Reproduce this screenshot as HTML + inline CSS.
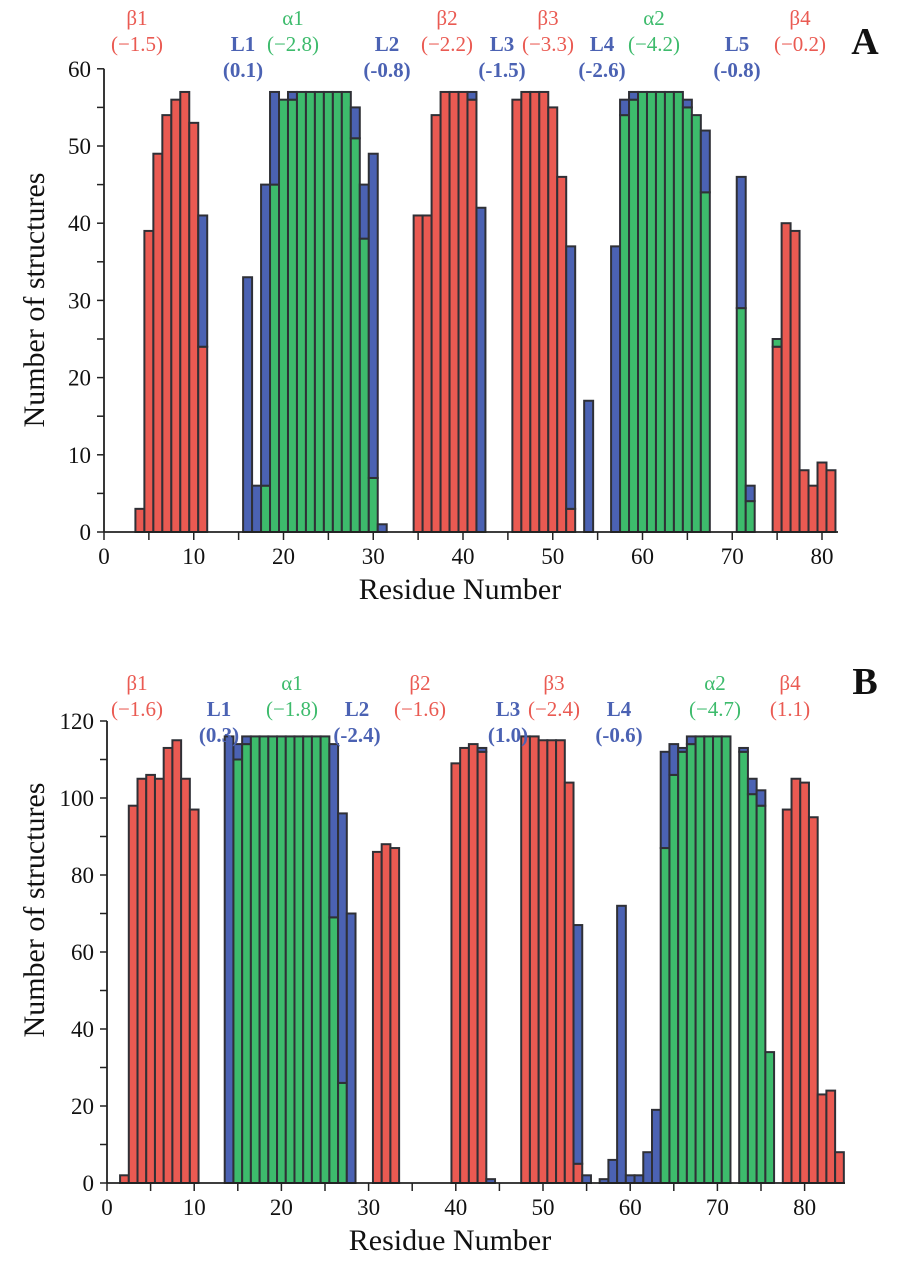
<!DOCTYPE html>
<html><head><meta charset="utf-8"><style>
html,body{margin:0;padding:0;background:#fff;}
svg{display:block;font-family:"Liberation Serif",serif;}
</style></head><body>
<svg id="chart" width="901" height="1280" viewBox="0 0 901 1280" xmlns="http://www.w3.org/2000/svg">
<g id="panelA"></g>
<g id="panelB"></g>
</svg>
<script>
// Panel A data
const resA   = [4,5,6,7,8,9,10,11,16,17,18,19,20,21,22,23,24,25,26,27,28,29,30,31,35,36,37,38,39,40,41,42,46,47,48,49,50,51,52,54,57,58,59,60,61,62,63,64,65,66,67,71,72,75,76,77,78,79,80,81];
const redA   = [3,39,49,54,56,57,53,24,0,0,0,0,0,0,0,0,0,0,0,0,0,0,0,0,41,41,54,57,57,57,56,0,56,57,57,57,55,46,3,0,0,0,0,0,0,0,0,0,0,0,0,0,0,24,40,39,8,6,9,8];
const greenA = [0,0,0,0,0,0,0,0,0,0,6,45,56,56,57,57,57,57,57,57,51,38,7,0,0,0,0,0,0,0,0,0,0,0,0,0,0,0,0,0,0,54,56,57,57,57,57,57,55,54,44,29,4,1,0,0,0,0,0,0];
const blueA  = [0,0,0,0,0,0,0,17,33,6,39,12,0,1,0,0,0,0,0,0,4,7,42,1,0,0,0,0,0,0,1,42,0,0,0,0,0,0,34,17,37,2,1,0,0,0,0,0,1,0,8,17,2,0,0,0,0,0,0,0];
const xTicksA = [0,10,20,30,40,50,60,70,80];
const yTicksA = [0,10,20,30,40,50,60];
const labelsA = ["β1","L1","α1","L2","β2","L3","β3","L4","α2","L5","β4"];
const valuesA = ["(−1.5)","(0.1)","(−2.8)","(-0.8)","(−2.2)","(-1.5)","(−3.3)","(-2.6)","(−4.2)","(-0.8)","(−0.2)"];
// Panel B data
const resB   = [2,3,4,5,6,7,8,9,10,14,15,16,17,18,19,20,21,22,23,24,25,26,27,28,31,32,33,40,41,42,43,44,48,49,50,51,52,53,54,55,57,58,59,60,61,62,63,64,65,66,67,68,69,70,71,73,74,75,76,78,79,80,81,82,83,84];
const redB   = [2,98,105,106,105,113,115,105,97,0,0,0,0,0,0,0,0,0,0,0,0,0,0,0,86,88,87,109,113,114,112,0,116,116,115,115,115,104,5,0,0,0,0,0,0,0,0,0,0,0,0,0,0,0,0,0,0,0,0,97,105,104,95,23,24,8];
const greenB = [0,0,0,0,0,0,0,0,0,0,110,114,116,116,116,116,116,116,116,116,116,69,26,0,0,0,0,0,0,0,0,0,0,0,0,0,0,0,0,0,0,0,0,0,0,0,0,87,106,112,114,116,116,116,116,112,101,98,34,0,0,0,0,0,0,0];
const blueB  = [0,0,0,0,0,0,0,0,0,116,4,2,0,0,0,0,0,0,0,0,0,45,70,70,0,0,0,0,0,0,1,1,0,0,0,0,0,0,62,2,1,6,72,2,2,8,19,25,8,1,2,0,0,0,0,1,4,4,0,0,0,0,0,0,0,0];
const xTicksB = [0,10,20,30,40,50,60,70,80];
const yTicksB = [0,20,40,60,80,100,120];
const labelsB = ["β1","L1","α1","L2","β2","L3","β3","L4","α2","β4"];
const valuesB = ["(−1.6)","(0.3)","(−1.8)","(-2.4)","(−1.6)","(1.0)","(−2.4)","(-0.6)","(−4.7)","(1.1)"];

const NS="http://www.w3.org/2000/svg";
const COL={red:"#ea5a52",green:"#3dbb6c",blue:"#4b62b3"};
function mk(tag,attrs,parent){const e=document.createElementNS(NS,tag);for(const k in attrs)e.setAttribute(k,attrs[k]);parent.appendChild(e);return e;}

function drawPanel(g,cfg){
  const xs=v=>cfg.x0+cfg.kx*v, ys=v=>cfg.y0-cfg.ky*v;
  for(let i=0;i<cfg.res.length;i++){
    const r=cfg.res[i];let base=0;
    const segs=[["red",cfg.red[i]],["green",cfg.green[i]],["blue",cfg.blue[i]]];
    for(const [c,v] of segs){
      if(v<=0)continue;
      const rect=mk("rect",{x:xs(r-0.5),y:ys(base+v),width:cfg.kx,height:cfg.ky*v,fill:COL[c],stroke:"#2f3036","stroke-width":2},g);
      
      
      base+=v;
    }
  }
  const ya=mk("line",{x1:cfg.x0,y1:cfg.y0,x2:cfg.x0,y2:ys(cfg.ymax),stroke:"#222","stroke-width":1.8},g);
  
  const xa=mk("line",{x1:cfg.x0,y1:cfg.y0,x2:cfg.xend,y2:cfg.y0,stroke:"#222","stroke-width":1.8},g);
  
  for(let v=0;v<=cfg.ymax;v+=cfg.yminor){mk("line",{x1:cfg.x0-7,y1:ys(v),x2:cfg.x0,y2:ys(v),stroke:"#222","stroke-width":1.5},g);}
  for(let v=0;v<=80;v+=5){mk("line",{x1:xs(v),y1:cfg.y0,x2:xs(v),y2:cfg.y0+8,stroke:"#222","stroke-width":1.5},g);}
  for(const t of cfg.yt){const e=mk("text",{x:cfg.x0-13,y:ys(t)+8,"text-anchor":"end","font-size":23,fill:"#111"},g);e.textContent=t;
    }
  for(const t of cfg.xt){const e=mk("text",{x:xs(t),y:cfg.y0+32,"text-anchor":"middle","font-size":23,fill:"#111"},g);e.textContent=t;
    }
  const xt=mk("text",{x:cfg.xtitleX,y:cfg.y0+67,"text-anchor":"middle","font-size":30,fill:"#111"},g);xt.textContent="Residue Number";
  
  const ytl=mk("text",{x:0,y:0,"text-anchor":"middle","font-size":30,fill:"#111",transform:`translate(${cfg.ytitleX},${cfg.ytitleY}) rotate(-90)`},g);ytl.textContent="Number of structures";
  
  const pl=mk("text",{x:865,y:cfg.letterY,"text-anchor":"middle","font-size":38,"font-weight":"bold",fill:"#111"},g);pl.textContent=cfg.letter;
  
  for(let i=0;i<cfg.labels.length;i++){
    const isL=cfg.labels[i][0]==="L";
    const c=isL?COL.blue:(cfg.labels[i][0]==="α"?COL.green:COL.red);
    const yy=cfg.labY+(isL?26:0);
    const a=mk("text",{x:cfg.labX[i],y:yy,"text-anchor":"middle","font-size":21,fill:c,"font-weight":isL?"bold":"normal"},g);a.textContent=cfg.labels[i];
    
    const b=mk("text",{x:cfg.labX[i],y:yy+26,"text-anchor":"middle","font-size":21,fill:c,"font-weight":isL?"bold":"normal"},g);b.textContent=cfg.values[i];
    
  }
}
drawPanel(document.getElementById("panelA"),{x0:104,kx:8.975,y0:532,ky:7.72,ymax:60,yminor:5,xend:838,res:resA,red:redA,green:greenA,blue:blueA,
  yt:yTicksA,xt:xTicksA,xtitleX:460,ytitleX:44,ytitleY:300,letter:"A",letterY:54,labY:25,
  labels:labelsA,values:valuesA,labX:[137,243,293,387,447,502,548,602,654,737,800]});
drawPanel(document.getElementById("panelB"),{x0:107,kx:8.72,y0:1183,ky:3.85,ymax:120,yminor:10,xend:845,res:resB,red:redB,green:greenB,blue:blueB,
  yt:yTicksB,xt:xTicksB,xtitleX:450,ytitleX:44,ytitleY:910,letter:"B",letterY:694,labY:690,
  labels:labelsB,values:valuesB,labX:[137,219,292,357,420,508,554,619,715,790]});
</script>
</body></html>
